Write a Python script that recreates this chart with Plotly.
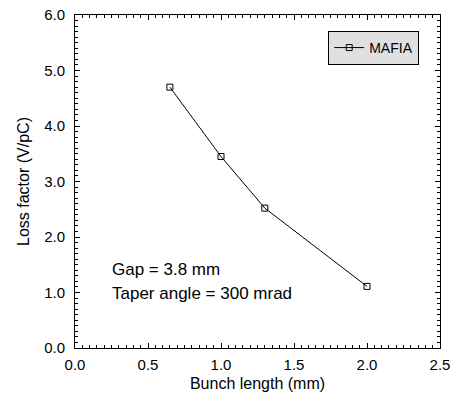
import plotly.graph_objects as go

bunch_length = [0.65, 1.0, 1.3, 2.0]
loss_factor = [4.70, 3.45, 2.52, 1.11]
series_name = "MAFIA"
x_ticks = [0.0, 0.5, 1.0, 1.5, 2.0, 2.5]
y_ticks = [0.0, 1.0, 2.0, 3.0, 4.0, 5.0, 6.0]

fig = go.Figure()
fig.add_trace(go.Scatter(
    x=bunch_length, y=loss_factor, name=series_name, mode="lines+markers",
    line=dict(color="black", width=1),
    marker=dict(symbol="square-open", size=6, color="black", line=dict(width=1)),
))

font = "Liberation Sans, Arial, sans-serif"
axis_common = dict(
    showline=True, linecolor="black", linewidth=1, mirror="ticks",
    ticks="inside", ticklen=5, tickcolor="black", showgrid=False, zeroline=False,
    tickfont=dict(family=font, size=15, color="black"), automargin=False,
)
fig.update_xaxes(
    range=[0, 2.5], tickvals=x_ticks, ticktext=[f"{v:.1f}" for v in x_ticks],
    minor=dict(dtick=0.05, ticks="inside", ticklen=3, tickcolor="black"),
    ticklabelstandoff=3,
    title=dict(text="Bunch length (mm)", font=dict(family=font, size=16, color="black"), standoff=5),
    **axis_common,
)
fig.update_yaxes(
    range=[0, 6], tickvals=y_ticks, ticktext=[f"{v:.1f}" for v in y_ticks],
    minor=dict(dtick=0.1, ticks="inside", ticklen=3, tickcolor="black"),
    ticklabelstandoff=6,
    title=dict(text="Loss factor (V/pC)", font=dict(family=font, size=16, color="black"), standoff=10),
    **axis_common,
)
fig.add_annotation(x=0.097, y=0.235, xref="paper", yref="paper", xanchor="left", yanchor="middle",
                   text="Gap = 3.8 mm", showarrow=False, font=dict(family=font, size=17, color="black"))
fig.add_annotation(x=0.097, y=0.163, xref="paper", yref="paper", xanchor="left", yanchor="middle",
                   text="Taper angle = 300 mrad", showarrow=False, font=dict(family=font, size=17, color="black"))

fig.update_layout(
    width=454, height=394,
    margin=dict(l=74.5, r=14, t=15, b=45.5, autoexpand=False),
    paper_bgcolor="white", plot_bgcolor="white",
    showlegend=True,
    legend=dict(x=0.943, y=0.901, xanchor="right", yanchor="middle",
                bgcolor="#e0e0e0", bordercolor="black", borderwidth=1,
                font=dict(family=font, size=14, color="black"),
                itemwidth=30, tracegroupgap=0),
)
fig.write_html("out.html")
